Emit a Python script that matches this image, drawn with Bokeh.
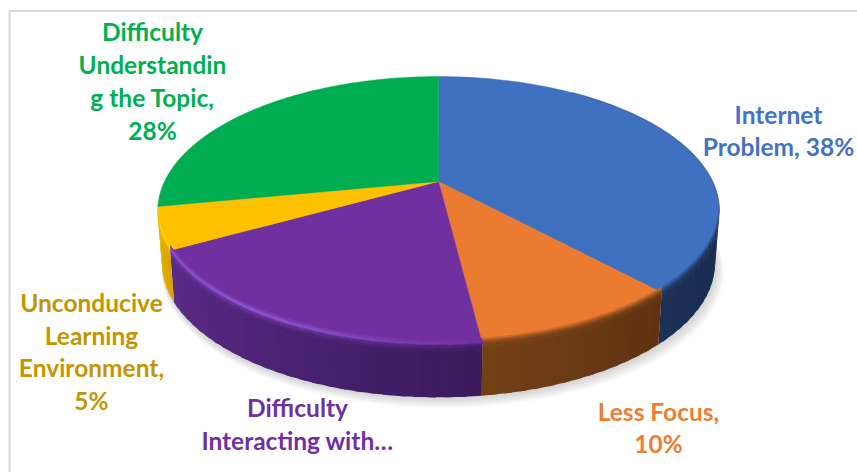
import numpy as np
from bokeh.core.properties import value
from bokeh.embed import file_html
from bokeh.models import ColumnDataSource, Range1d
from bokeh.plotting import figure
from bokeh.resources import INLINE

# Share of respondents per category, clockwise from twelve o'clock
categories = [
    "Internet Problem",
    "Less Focus",
    "Difficulty Interacting with...",
    "Unconducive Learning Environment",
    "Difficulty Understanding the Topic",
]
shares = [38, 10, 19, 5, 28]

label_lines = [
    ["Internet", "Problem, 38%"],
    ["Less Focus,", "10%"],
    ["Difficulty", "Interacting with…"],
    ["Unconducive", "Learning", "Environment,", "5%"],
    ["Difficulty", "Understandin", "g the Topic,", "28%"],
]
label_centre_x = [778, 658, 297, 91, 152]
label_first_y = [114, 411, 407, 302, 31]
line_step = [32, 32, 33, 32.5, 33]

top_colors = ["#4070c0", "#ea7a2f", "#7030a0", "#ffc000", "#00ad50"]
text_colors = ["#4472c4", "#ed7d31", "#7030a0", "#c49500", "#00b050"]
# Rim tone and wall tones at the start and end of each slice
rim_colors = ["#2a4677", "#8a4c1e", "#9052d2", "#ffd800", "#00a04a"]
wall_start = ["#172b4e", "#5f3212", "#3a1a5c", "#d9a400", "#008a40"]
wall_end = ["#1d3158", "#744016", "#5c2b8a", "#efb800", "#008a40"]

# Perspective disc: apex, half-axes and foreshortening of the pie's top plane
APEX_X, APEX_Y = 438.0, 181.0
HALF_W, HALF_H, TILT = 274.0, 128.0, 0.219
DEPTH, BASE_SHRINK = 52.0, 0.985
BEVEL_PX = 164.0


def top_plane(angle):
    u, v = np.sin(angle), np.cos(angle)
    w = 1 + TILT * v
    return APEX_X + HALF_W * u / w, APEX_Y - HALF_H * v / w


def base_plane(angle):
    x, y = top_plane(angle)
    return APEX_X + (x - APEX_X) * BASE_SHRINK, y + DEPTH


def surface(angle, s):
    # s < 0 lifts the rim point onto the top face, s in 0..1 runs down the wall
    x0, y0 = top_plane(angle)
    if s <= 0:
        return x0, y0 + s * BEVEL_PX
    x1, y1 = base_plane(angle)
    return x0 + (x1 - x0) * s, y0 + (y1 - y0) * s


def rgb(h):
    return np.array([int(h[i:i + 2], 16) for i in (1, 3, 5)], dtype=float)


def mix(a, b, t):
    c = rgb(a) * (1 - t) + rgb(b) * t
    return "#%02x%02x%02x" % tuple(int(round(i)) for i in c)


p = figure(
    width=857, height=472, output_backend="svg", toolbar_location=None,
    x_range=Range1d(0, 857), y_range=Range1d(472, 0), min_border=0,
    background_fill_color="white", border_fill_color="white", outline_line_color=None,
)
p.axis.visible = False
p.grid.visible = False

# Chart frame running off the right and bottom of the page
p.line([9, 9, 870], [490, 10.5, 10.5], line_color="#d9d9d9", line_width=2)

# Soft shadow under the base
full = np.linspace(0, 2 * np.pi, 240)
bx, by = base_plane(full)
for k in range(1, 10):
    p.patch(APEX_X + (bx - APEX_X) * (1 + 0.0016 * k) + 0.5 * k, by + 1.15 * k,
            fill_color="#777777", fill_alpha=0.035, line_color=None)

edges = np.cumsum([0] + shares) / sum(shares) * 2 * np.pi
FRONT_FROM, FRONT_TO = np.radians(102.6), np.radians(259.2)
ramp = [-0.035, -0.024, -0.014, -0.006, 0.0, 0.05, 0.1, 0.16, 1.0]

# Top face: one wedge per category
wx, wy, wc = [], [], []
for i in range(len(shares)):
    arc = np.linspace(edges[i], edges[i + 1], 120)
    ax, ay = top_plane(arc)
    wx.append([APEX_X, *ax])
    wy.append([APEX_Y, *ay])
    wc.append(top_colors[i])
p.patches("x", "y", source=ColumnDataSource(dict(x=wx, y=wy, c=wc)),
          fill_color="c", line_color="c", line_width=0.4)

# Wall and bevel: each tile overlaps the next so no seams show between them
xs, ys, fills = [], [], []
for i in range(len(shares)):
    a0, a1 = max(edges[i], FRONT_FROM), min(edges[i + 1], FRONT_TO)
    if a1 <= a0:
        continue
    steps = max(2, int(np.degrees(a1 - a0) / 2.5))
    cuts = np.linspace(a0, a1, steps + 1)
    for j in range(steps):
        t = (j + 0.5) / steps
        wall = mix(wall_start[i], wall_end[i], t)
        # The purple highlight fades out toward the front of the slice
        rim = mix(top_colors[i], rim_colors[i], min(1.0, t * 2)) if i == 2 else rim_colors[i]
        tones = [
            mix(top_colors[i], rim, 0.35), mix(top_colors[i], rim, 0.75), rim,
            mix(rim, wall, 0.35), mix(rim, wall, 0.7), mix(rim, wall, 0.9), wall, wall,
        ]
        right = cuts[j + 1] if j == steps - 1 else cuts[j + 1] + (cuts[1] - cuts[0]) * 0.5
        for b in range(len(ramp) - 1):
            xa, ya = surface(cuts[j], ramp[b])
            xb, yb = surface(right, ramp[b])
            lower = ramp[b + 1] if b == len(ramp) - 2 else ramp[b + 1] + 0.012
            xc, yc = surface(right, lower)
            xd, yd = surface(cuts[j], lower)
            xs.append([xa, xb, xc, xd])
            ys.append([ya, yb, yc, yd])
            fills.append(tones[b])
p.patches("x", "y", source=ColumnDataSource(dict(x=xs, y=ys, c=fills)),
          fill_color="c", line_color=None)

# Thin shaded lip along the far edge of the blue wedge
lip = np.linspace(np.radians(35), FRONT_FROM, 60)
lx, ly = top_plane(lip)
p.line(lx, ly, line_color="#2f5088", line_width=1.2, line_alpha=0.55)

# Category labels, one text per wrapped line
tx, ty, tt, tc = [], [], [], []
for i, lines in enumerate(label_lines):
    for n, line in enumerate(lines):
        tx.append(label_centre_x[i])
        ty.append(label_first_y[i] + n * line_step[i])
        tt.append(line)
        tc.append(text_colors[i])
p.text("x", "y", text="t", source=ColumnDataSource(dict(x=tx, y=ty, t=tt, c=tc)),
       text_color="c", text_font=value("Lato"), text_font_style="bold",
       text_font_size="24.5px", text_align="center", text_baseline="middle")

open("out.html", "w").write(file_html(p, INLINE))
